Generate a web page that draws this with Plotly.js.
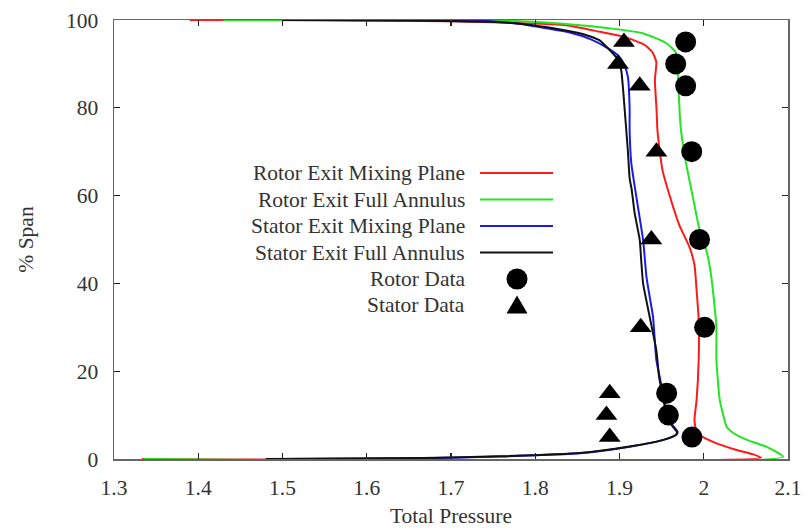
<!DOCTYPE html>
<html>
<head>
<meta charset="utf-8">
<script src="https://cdn.plot.ly/plotly-3.0.1.min.js"></script>
<style>html,body{margin:0;padding:0;background:#fff;}#chart{width:807px;height:528px;}</style>
</head>
<body>
<div id="chart"></div>
<script>
// ---- data ----
var seriesNames = ["Rotor Exit Mixing Plane", "Rotor Exit Full Annulus", "Stator Exit Mixing Plane", "Stator Exit Full Annulus", "Rotor Data", "Stator Data"];

var rotorMixX = [1.333, 2.068, 2.058, 2.039, 2.011, 1.992, 1.989, 1.9915, 1.994, 1.994, 1.9915, 1.989, 1.983, 1.971, 1.960, 1.951, 1.9476, 1.945, 1.944, 1.942, 1.9437, 1.939, 1.930, 1.907, 1.877, 1.837, 1.797, 1.70, 1.55, 1.39];
var rotorMixY = [0, 0.3, 1.1, 2.05, 3.9, 5.9, 8.9, 13.4, 22.6, 31.7, 38.5, 44.2, 48.3, 53.3, 59.7, 65.8, 70.4, 75, 79.5, 86.3, 90.4, 92.7, 94.3, 96.1, 97.3, 98.8, 99.2, 99.7, 99.95, 100];

var rotorFullX = [1.335, 2.094, 2.074, 2.052, 2.036, 2.027, 2.0225, 2.019, 2.015, 2.015, 2.009, 2.003, 1.995, 1.987, 1.979, 1.973, 1.9714, 1.9694, 1.9675, 1.9557, 1.9277, 1.888, 1.829, 1.758, 1.60, 1.43];
var rotorFullY = [0, 0.5, 2.8, 4.3, 5.8, 7.4, 10.5, 13.4, 22.6, 30.1, 41.5, 47.6, 52.2, 59.7, 67.4, 74.9, 79, 87.1, 92.4, 94.7, 97, 98.1, 99.2, 99.9, 99.98, 100];

var statorMixX = [1.505, 1.6666, 1.758, 1.853, 1.912, 1.951, 1.9675, 1.969, 1.963, 1.957, 1.952, 1.9477, 1.9437, 1.9398, 1.9358, 1.932, 1.928, 1.920, 1.914, 1.912, 1.912, 1.910, 1.906, 1.899, 1.886, 1.866, 1.840, 1.817, 1.778, 1.738, 1.65, 1.555];
var statorMixY = [0, 0.16, 0.57, 1.3, 2.8, 4.3, 5.5, 6.2, 7.7, 10, 14.6, 18.7, 22.6, 32.4, 37, 41.5, 49.9, 59.7, 67.4, 74.9, 80, 87, 89.7, 91.8, 93.6, 95.6, 97.2, 98, 99.2, 99.8, 99.97, 100];

var statorFullX = [1.48, 1.6666, 1.758, 1.853, 1.912, 1.951, 1.967, 1.968, 1.962, 1.956, 1.951, 1.947, 1.9437, 1.9358, 1.928, 1.926, 1.924, 1.918, 1.9145, 1.912, 1.910, 1.908, 1.906, 1.904, 1.902, 1.8985, 1.8845, 1.876, 1.860, 1.833, 1.797, 1.758, 1.65, 1.50];
var statorFullY = [0, 0.2, 0.6, 1.35, 2.85, 4.3, 5.5, 6.2, 7.7, 10, 14.6, 18.7, 24.8, 32.4, 40, 44.6, 49.9, 56, 61.3, 64, 70, 75, 80, 84.8, 88.6, 90.9, 93.9, 95.4, 96.6, 97.7, 98.8, 99.5, 99.9, 100];

var rotorDataX = [1.9785, 1.9667, 1.9785, 1.9857, 1.995, 2.001, 1.956, 1.958, 1.986];
var rotorDataY = [95, 90, 85, 70, 50, 30, 15, 10, 5];

var statorDataX = [1.9053, 1.8982, 1.924, 1.9438, 1.9378, 1.9252, 1.8884, 1.8845, 1.8884];
var statorDataY = [95, 90, 85, 70, 50, 30, 15, 10, 5];

var xTickVals = [1.3, 1.4, 1.5, 1.6, 1.7, 1.8, 1.9, 2.0, 2.1];
var xTickText = ["1.3", "1.4", "1.5", "1.6", "1.7", "1.8", "1.9", "2", "2.1"];
var yTickVals = [0, 20, 40, 60, 80, 100];
var yTickText = ["0", "20", "40", "60", "80", "100"];

var xTitle = "Total Pressure";
var yTitle = "% Span";

// ---- styles ----
var lineColors = ["#ff1a1a", "#22e622", "#1a1aee", "#111111"];
var FONT = "Liberation Serif, Times New Roman, serif";
var FS = 21.5;
var TXT = "#333333";

function lineTrace(x, y, i) {
  return {x: x, y: y, name: seriesNames[i], mode: "lines",
          line: {color: lineColors[i], width: 2, shape: "spline", smoothing: 0.5}};
}

var traces = [
  lineTrace(rotorMixX, rotorMixY, 0),
  lineTrace(rotorFullX, rotorFullY, 1),
  lineTrace(statorMixX, statorMixY, 2),
  lineTrace(statorFullX, statorFullY, 3),
  {x: rotorDataX, y: rotorDataY, name: seriesNames[4], mode: "markers", marker: {symbol: "circle", size: 21, color: "#000", line: {width: 0}}},
  {x: statorDataX, y: statorDataY, name: seriesNames[5], mode: "markers", marker: {symbol: "triangle-up", size: 19, color: "#000", line: {width: 0}}}
];

// ---- custom legend (gnuplot style: text, then sample on its right) ----
var plotL = 114, plotT = 20, plotW = 674, plotH = 439;
function px2x(p) { return (p - plotL) / plotW; }
function px2y(p) { return (plotT + plotH - p) / plotH; }
var legRows = [173, 199.5, 226, 252.5, 279, 305];
var legTextRight = 467, legLineX0 = 480, legLineX1 = 553, legMarkX = 517;

var annotations = [];
var shapes = [];
for (var i = 0; i < seriesNames.length; i++) {
  annotations.push({
    xref: "paper", yref: "paper", x: px2x(legTextRight), y: px2y(legRows[i]),
    xanchor: "right", yanchor: "middle", showarrow: false,
    text: seriesNames[i], font: {family: FONT, size: FS, color: TXT}
  });
  if (i < 4) {
    shapes.push({type: "line", xref: "paper", yref: "paper",
      x0: px2x(legLineX0), x1: px2x(legLineX1), y0: px2y(legRows[i]), y1: px2y(legRows[i]),
      line: {color: lineColors[i], width: 2}});
  }
}
// circle sample
var cr = 10.5;
shapes.push({type: "circle", xref: "paper", yref: "paper",
  x0: px2x(legMarkX - cr), x1: px2x(legMarkX + cr), y0: px2y(legRows[4] + cr), y1: px2y(legRows[4] - cr),
  fillcolor: "#000", line: {width: 0}});
// triangle sample
var tc = legRows[5], th = 8.5;
shapes.push({type: "path", xref: "paper", yref: "paper",
  path: "M" + px2x(legMarkX - 10.5) + "," + px2y(tc + th) + " L" + px2x(legMarkX + 10.5) + "," + px2y(tc + th) +
        " L" + px2x(legMarkX) + "," + px2y(tc - th - 1) + " Z",
  fillcolor: "#000", line: {width: 0}});

var axisCommon = {
  showgrid: false, zeroline: false, showline: true, mirror: "ticks",
  linecolor: "#666", linewidth: 1.5, ticks: "inside", ticklen: 6, tickwidth: 1.2, tickcolor: "#222",
  tickfont: {family: FONT, size: FS, color: TXT}
};

var layout = {
  width: 807, height: 528,
  margin: {l: 114, r: 19, t: 20, b: 69},
  paper_bgcolor: "#fff", plot_bgcolor: "#fff",
  showlegend: false,
  font: {family: FONT, size: FS, color: TXT},
  xaxis: Object.assign({}, axisCommon, {
    range: [1.3, 2.1], tickmode: "array", tickvals: xTickVals, ticktext: xTickText,
    ticklabelstandoff: 9,
    title: {text: xTitle, font: {family: FONT, size: FS, color: TXT}, standoff: 10}
  }),
  yaxis: Object.assign({}, axisCommon, {
    range: [0, 100], tickmode: "array", tickvals: yTickVals, ticktext: yTickText,
    ticklabelstandoff: 10,
    title: {text: yTitle, font: {family: FONT, size: FS, color: TXT}, standoff: 26}
  }),
  annotations: annotations,
  shapes: shapes
};

Plotly.newPlot("chart", traces, layout, {displayModeBar: false, staticPlot: true});
</script>
</body>
</html>
